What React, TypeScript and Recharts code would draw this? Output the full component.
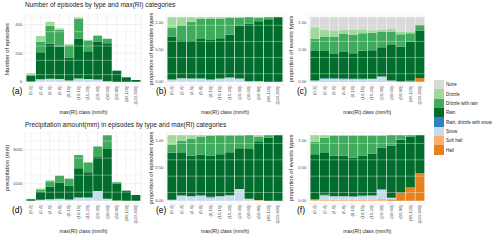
// 6 panels: counts (a, d), their shares (b, e) and event shares (c, f) by max(RI) class.
import { BarChart, Bar, XAxis, YAxis, CartesianGrid, ReferenceLine } from 'recharts'

const CLASSES = ['(0,2]', '(2,4]', '(4,6]', '(6,8]', '(8,10]', '(10,15]', '(15,20]', '(20,30]', '(30,60]', '(60,90]', '(90,120]', '(120,300]']

// (a) number of episodes
const epSoftHail = [0, 0, 0, 0, 0, 0, 0, 0, 0, 1, 0, 0]
const epSnow = [2, 18, 21, 19, 9, 22, 19, 16, 3, 0, 0, 0]
const epRain = [40, 188, 244, 227, 161, 281, 194, 265, 267, 74, 32, 12]
const epDrizzleRain = [8, 74, 126, 117, 85, 138, 76, 41, 30, 4, 1, 0]
const epDrizzle = [10, 40, 29, 9, 7, 9, 3, 3, 0, 1, 0, 0]

// (c) share of events types
const evHail = [0, 0, 0, 0, 0, 0, 0, 0, 0, 0.01, 0.015, 0.06]
const evSoftHail = [0.01, 0.01, 0.01, 0.01, 0.01, 0.01, 0.01, 0.01, 0.01, 0, 0, 0]
const evSnow = [0.01, 0.035, 0.035, 0.03, 0.03, 0.03, 0.035, 0.07, 0.01, 0, 0, 0]
const evRainSnow = [0, 0.01, 0.01, 0.01, 0.005, 0.005, 0, 0, 0, 0, 0, 0]
const evRain = [0.455, 0.42, 0.375, 0.41, 0.395, 0.435, 0.445, 0.455, 0.55, 0.535, 0.6, 0.735]
const evDrizzleRain = [0.195, 0.225, 0.27, 0.28, 0.29, 0.27, 0.27, 0.235, 0.21, 0.19, 0.135, 0.09]
const evDrizzle = [0.175, 0.11, 0.09, 0.07, 0.08, 0.065, 0.04, 0.04, 0.045, 0.045, 0.02, 0]
const evNone = [0.155, 0.19, 0.21, 0.19, 0.19, 0.185, 0.2, 0.19, 0.175, 0.22, 0.23, 0.115]

// (d) precipitation amount (mm)
const prSoftHail = [0, 0, 0, 0, 0, 0, 0, 0, 0, 11, 0, 0]
const prRainSnow = [0, 0, 0, 0, 13, 0, 0, 0, 0, 0, 0, 0]
const prSnow = [2, 58, 84, 119, 65, 188, 192, 576, 115, 0, 0, 0]
const prRain = [86, 468, 744, 931, 819, 1722, 1480, 1984, 2918, 999, 579, 330]
const prDrizzleRain = [14, 130, 312, 410, 390, 767, 576, 624, 807, 72, 21, 0]
const prDrizzle = [18, 64, 60, 30, 13, 13, 12, 16, 0, 28, 0, 0]

// (f) share of precipitation by events types
const fHail = [0, 0, 0, 0, 0, 0, 0, 0, 0.02, 0.12, 0.2, 0.42]
const fSoftHail = [0.01, 0.01, 0.015, 0.02, 0.02, 0.02, 0.02, 0.03, 0.01, 0, 0, 0]
const fSnow = [0.01, 0.07, 0.055, 0.05, 0.045, 0.05, 0.06, 0.14, 0.015, 0, 0, 0]
const fRainSnow = [0, 0.01, 0, 0, 0, 0.01, 0, 0, 0, 0, 0.01, 0]
const fRain = [0.69, 0.64, 0.62, 0.62, 0.595, 0.61, 0.64, 0.64, 0.8, 0.81, 0.77, 0.58]
const fDrizzleRain = [0.19, 0.23, 0.3, 0.3, 0.33, 0.3, 0.27, 0.18, 0.155, 0.07, 0.02, 0]
const fDrizzle = [0.1, 0.04, 0.01, 0.01, 0.01, 0.01, 0.01, 0.01, 0, 0, 0, 0]

// stack order, bottom first
const TYPES = [
  { key: 'hail', name: 'Hail', color: '#e6821e' },
  { key: 'softHail', name: 'Soft hail', color: '#fdae6b' },
  { key: 'snow', name: 'Snow', color: '#c6dbef' },
  { key: 'rainSnow', name: 'Rain, drizzle with snow', color: '#3182bd' },
  { key: 'rain', name: 'Rain', color: '#006d2c' },
  { key: 'drizzleRain', name: 'Drizzle with rain', color: '#41ab5d' },
  { key: 'drizzle', name: 'Drizzle', color: '#a1d99b' },
  { key: 'none', name: 'None', color: '#d9d9d9' },
]

const FONT = '"Liberation Sans", Arial, sans-serif'
const TICK_TXT = '#4d4d4d'
const GRID = '#ebebeb'

type Series = Record<string, number[]>
// one row per class; with share=true each row is divided by its total (position="fill")
const rows = (s: Series, share = false) =>
  CLASSES.map((cls, i) => {
    const r: Record<string, number | string> = { cls }
    const tot = share ? Object.keys(s).reduce((a, k) => a + s[k][i], 0) : 1
    for (const k of Object.keys(s)) r[k] = s[k][i] / tot
    return r
  })

const epSeries = { softHail: epSoftHail, snow: epSnow, rain: epRain, drizzleRain: epDrizzleRain, drizzle: epDrizzle }
const prSeries = { softHail: prSoftHail, rainSnow: prRainSnow, snow: prSnow, rain: prRain, drizzleRain: prDrizzleRain, drizzle: prDrizzle }
const episodes = rows(epSeries)
const episodesShare = rows(epSeries, true)
const precip = rows(prSeries)
const precipShare = rows(prSeries, true)
const events = rows({ hail: evHail, softHail: evSoftHail, snow: evSnow, rainSnow: evRainSnow, rain: evRain, drizzleRain: evDrizzleRain, drizzle: evDrizzle, none: evNone }, true)
const precipEv = rows({ hail: fHail, softHail: fSoftHail, snow: fSnow, rainSnow: fRainSnow, rain: fRain, drizzleRain: fDrizzleRain, drizzle: fDrizzle }, true)

// plot-area edges, in page pixels
const COLS = [
  { l: 25.3, r: 141.7 },
  { l: 166.2, r: 283.8 },
  { l: 309, r: 425.4 },
]
const ROWS = [
  { t: 13.5, b: 84.5 },
  { t: 132, b: 204 },
]
const YW = 22
const XH = 24

function XTick(props: { x?: number; y?: number; payload?: { value: string } }) {
  const { x = 0, y = 0, payload } = props
  return (
    <text transform={`translate(${x},${y}) rotate(-90)`} textAnchor="end" dominantBaseline="central" fontSize={4.3} fill={TICK_TXT} fontFamily={FONT}>
      {payload?.value}
    </text>
  )
}

function YTick(props: { x?: number; y?: number; payload?: { value: number }; fmt: (v: number) => string }) {
  const { x = 0, y = 0, payload, fmt } = props
  return (
    <text x={x} y={y} textAnchor="end" dominantBaseline="central" fontSize={4.3} fill={TICK_TXT} fontFamily={FONT}>
      {payload ? fmt(payload.value) : ''}
    </text>
  )
}

function Panel(props: {
  col: number
  row: number
  data: Record<string, number | string>[]
  domain: [number, number]
  ticks: number[]
  minor: number[]
  fmt: (v: number) => string
}) {
  const { col, row, data, domain, ticks, minor, fmt } = props
  const c = COLS[col]
  const r = ROWS[row]
  const w = c.r - c.l
  const step = w / 12.2
  const keys = TYPES.filter((t) => t.key in data[0])
  return (
    <div style={{ position: 'absolute', left: c.l - YW, top: r.t }}>
      <BarChart
        width={w + YW}
        height={r.b - r.t + XH}
        data={data}
        margin={{ top: 0, right: 0, bottom: 0, left: 0 }}
        barCategoryGap="5%"
      >
        <CartesianGrid stroke={GRID} strokeWidth={0.7} />
        {minor.map((m) => (
          <ReferenceLine key={m} y={m} stroke={GRID} strokeWidth={0.4} />
        ))}
        <XAxis
          dataKey="cls"
          interval={0}
          height={XH}
          tickLine={false}
          axisLine={false}
          tickSize={0}
          tickMargin={1.5}
          padding={{ left: step * 0.1, right: step * 0.1 }}
          tick={(p) => <XTick {...p} />}
        />
        <YAxis
          type="number"
          width={YW}
          domain={domain}
          ticks={ticks}
          allowDataOverflow
          tickLine={false}
          axisLine={false}
          tickSize={0}
          tickMargin={2.5}
          tick={(p) => <YTick {...p} fmt={fmt} />}
        />
        {keys.map((t) => (
          <Bar key={t.key} dataKey={t.key} stackId="s" fill={t.color} isAnimationActive={false} />
        ))}
      </BarChart>
    </div>
  )
}

const txt = (style: React.CSSProperties, s: string) => (
  <div style={{ position: 'absolute', whiteSpace: 'nowrap', fontFamily: FONT, lineHeight: 1, ...style }}>{s}</div>
)

// rotated y-axis title centred on (cx, cy)
const vtxt = (cx: number, cy: number, s: string) => (
  <div
    style={{
      position: 'absolute',
      left: cx,
      top: cy,
      transform: 'translate(-50%,-50%) rotate(-90deg)',
      whiteSpace: 'nowrap',
      fontFamily: FONT,
      fontSize: 5.8,
      lineHeight: 1,
      color: '#222',
    }}
  >
    {s}
  </div>
)

const pct = (v: number) => v.toFixed(2)
const num = (v: number) => String(v)
const P_TICKS = [0, 0.25, 0.5, 0.75, 1]
const P_MINOR = [0.125, 0.375, 0.625, 0.875]
const P_DOMAIN: [number, number] = [-0.05, 1.05]

export default function App() {
  const xTitle = (col: number, row: number) => {
    const c = COLS[col]
    return txt(
      { left: (c.l + c.r) / 2, top: row === 0 ? 110 : 229, transform: 'translateX(-50%)', fontSize: 5, color: '#222' },
      'max(RI) class (mm/h)'
    )
  }
  return (
    <div style={{ position: 'fixed', left: 0, top: 0, width: 500, height: 240, background: '#fff', overflow: 'hidden' }}>
      {txt({ left: 25, top: 2, fontSize: 6.5, color: '#222' }, 'Number of episodes by type and max(RI) categories')}
      {txt({ left: 25, top: 122, fontSize: 6.5, color: '#222' }, 'Precipitation amount(mm) in episodes by type and max(RI) categories')}

      <Panel col={0} row={0} data={episodes} domain={[-22.55, 473.55]} ticks={[0, 100, 200, 300, 400]} minor={[50, 150, 250, 350, 450]} fmt={num} />
      <Panel col={1} row={0} data={episodesShare} domain={P_DOMAIN} ticks={P_TICKS} minor={P_MINOR} fmt={pct} />
      <Panel col={2} row={0} data={events} domain={P_DOMAIN} ticks={P_TICKS} minor={P_MINOR} fmt={pct} />
      <Panel col={0} row={1} data={precip} domain={[-192, 4032]} ticks={[0, 1000, 2000, 3000]} minor={[500, 1500, 2500, 3500]} fmt={num} />
      <Panel col={1} row={1} data={precipShare} domain={P_DOMAIN} ticks={P_TICKS} minor={P_MINOR} fmt={pct} />
      <Panel col={2} row={1} data={precipEv} domain={P_DOMAIN} ticks={P_TICKS} minor={P_MINOR} fmt={pct} />

      {vtxt(8, 49, 'Number of episodes')}
      {vtxt(152, 49, 'proportion of episodes types')}
      {vtxt(292, 49, 'proportion of events types')}
      {vtxt(8, 168, 'precipitation (mm)')}
      {vtxt(152, 168, 'proportion of episodes types')}
      {vtxt(292, 168, 'proportion of events types')}

      {['(a)', '(b)', '(c)'].map((s, i) => txt({ left: [12, 156, 297][i], top: 87, fontSize: 8.5, color: '#000' }, s))}
      {['(d)', '(e)', '(f)'].map((s, i) => txt({ left: [12, 156, 297][i], top: 206, fontSize: 8.5, color: '#000' }, s))}

      {xTitle(0, 0)}
      {xTitle(1, 0)}
      {xTitle(2, 0)}
      {xTitle(0, 1)}
      {xTitle(1, 1)}
      {xTitle(2, 1)}

      {/* legend, top item first */}
      <div style={{ position: 'absolute', left: 434, top: 80 }}>
        {[...TYPES].reverse().map((t) => (
          <div key={t.key} style={{ display: 'flex', alignItems: 'center', height: 9.35 }}>
            <div style={{ width: 9.5, height: 9.35, background: t.color }} />
            <span style={{ marginLeft: 2.5, fontFamily: FONT, fontSize: 4.5, color: '#222', whiteSpace: 'nowrap' }}>{t.name}</span>
          </div>
        ))}
      </div>
    </div>
  )
}
